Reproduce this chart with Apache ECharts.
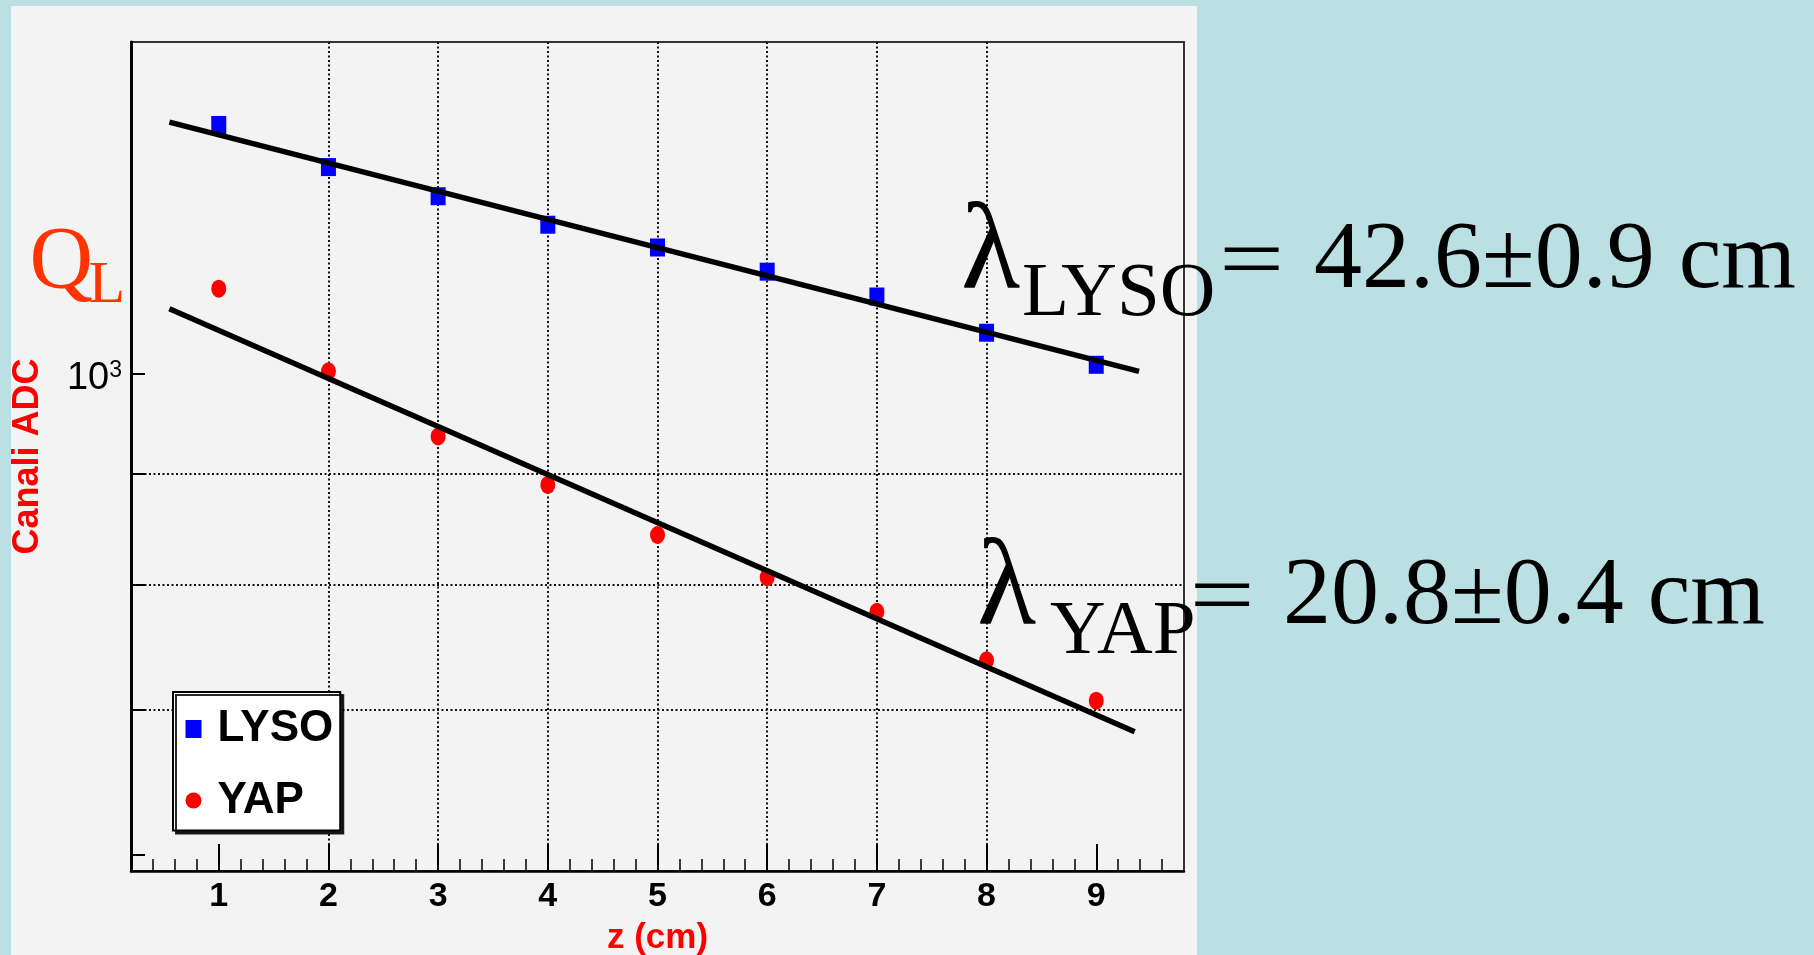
<!DOCTYPE html>
<html><head><meta charset="utf-8">
<script src="https://cdn.jsdelivr.net/npm/echarts@6/dist/echarts.min.js"></script>
<style>html,body{margin:0;padding:0;background:#bae0e3;}#c{width:1814px;height:955px;}</style>
</head><body><div id="c"></div>
<script>
// ---- data ----
const zValues = [1, 2, 3, 4, 5, 6, 7, 8, 9];
const lysoQ = [1303, 1246, 1208, 1172, 1144, 1115, 1086, 1045, 1010];
const yapQ  = [1095, 1003, 936, 889, 843, 806, 777, 738, 707];
const lysoFitZ = [0.55, 9.39];
const lysoFitQ = [1307, 1003];
const yapFitZ  = [0.55, 9.35];
const yapFitQ  = [1072, 684];
const xTickValues = [1, 2, 3, 4, 5, 6, 7, 8, 9];
const yGridValues = [600, 700, 800, 900, 1000];
const yLabelValues = [1000];
const xRange = [0.2, 9.8];
const yRange = [590, 1423];
const seriesNames = ['LYSO', 'YAP'];
const lambdaLabels = [
  { sub: 'LYSO', value: '42.6\u00b10.9 cm' },
  { sub: 'YAP',  value: '20.8\u00b10.4 cm' }
];

const SANS = '"Liberation Sans", Arial, Helvetica, sans-serif';
const SERIF = '"Liberation Serif", "Times New Roman", serif';
const ELLIPSE = 'path://M0,-1A1,1 0 1,1 0,1A1,1 0 1,1 0,-1Z';

const pairs = (xs, ys) => xs.map((x, i) => [x, ys[i]]);

function txt(text, x, y, size, color, family, scaleX) {
  return {
    type: 'text', x: x, y: y, z: 100, silent: true, scaleX: scaleX || 1,
    style: {
      text: text, fill: color, fontSize: size, fontFamily: family,
      align: 'left', verticalAlign: 'middle', textAlign: 'left', textVerticalAlign: 'middle'
    }
  };
}

const gridLineStyle = { color: '#111', width: 2, type: [2, 2.5] };

const chart = echarts.init(document.getElementById('c'), null, { renderer: 'canvas' });
const option = {
  animation: false,
  backgroundColor: '#bae0e3',
  grid: {
    left: 131, top: 42, right: 630, bottom: 84,
    show: true, borderColor: '#333', borderWidth: 2, backgroundColor: 'transparent',
    containLabel: false, outerBoundsMode: 'none'
  },
  legend: {
    data: seriesNames, orient: 'vertical', left: 173, top: 692,
    itemWidth: 16, itemHeight: 18, itemGap: 21.5,
    padding: [12, 7, 5, 12.5],
    backgroundColor: '#ffffff', borderColor: '#000', borderWidth: 2,
    shadowColor: 'rgba(0,0,0,0.85)', shadowBlur: 0, shadowOffsetX: 3, shadowOffsetY: 3,
    selectedMode: false,
    textStyle: {
      fontFamily: SANS, fontWeight: 'bold', fontSize: 44, lineHeight: 44,
      color: '#000', padding: [6, 0, 0, 11]
    }
  },
  xAxis: {
    type: 'value', min: xRange[0], max: xRange[1],
    splitNumber: 10, minInterval: 1, maxInterval: 1,
    axisLine: { show: true, onZero: false, lineStyle: { color: '#000', width: 2.5 } },
    axisTick: { show: true, inside: true, length: 27, customValues: xTickValues,
      lineStyle: { color: '#000', width: 2 } },
    minorTick: { show: true, splitNumber: 5, length: 12, lineStyle: { color: '#000', width: 1.5 } },
    axisLabel: {
      customValues: xTickValues, margin: 9,
      formatter: v => String(Math.round(v)),
      color: '#000', fontFamily: SANS, fontWeight: 'bold', fontSize: 34
    },
    splitLine: { show: true, showMinLine: false, showMaxLine: false, lineStyle: gridLineStyle },
    name: 'z (cm)', nameLocation: 'middle', nameGap: 50, nameMoveOverlap: false,
    nameTextStyle: { color: '#ff0000', fontFamily: SANS, fontWeight: 'bold', fontSize: 35 }
  },
  yAxis: {
    type: 'log', logBase: 10, min: yRange[0], max: yRange[1],
    axisLine: { show: true, lineStyle: { color: '#000', width: 3 } },
    axisTick: { show: true, inside: true, length: 14, customValues: yGridValues,
      lineStyle: { color: '#000', width: 2 } },
    minorTick: { show: false },
    axisLabel: {
      customValues: yLabelValues, margin: 9, padding: [8, 0, 0, 0],
      fontFamily: SANS, fontSize: 38, color: '#000',
      formatter: v => '{a|10}{b|' + Math.round(Math.log10(v)) + '}',
      rich: {
        a: { fontFamily: SANS, fontSize: 38, lineHeight: 38, color: '#000' },
        b: { fontFamily: SANS, fontSize: 23, lineHeight: 10, verticalAlign: 'top', color: '#000' }
      }
    },
    splitLine: { show: true, showMinLine: false, showMaxLine: false, lineStyle: gridLineStyle },
    name: 'Canali ADC', nameLocation: 'middle', nameGap: 85, nameRotate: 90, nameMoveOverlap: false,
    nameTextStyle: { color: '#ff0000', fontFamily: SANS, fontWeight: 'bold', fontSize: 36 }
  },
  series: [
    { type: 'scatter', name: seriesNames[0], data: pairs(zValues, lysoQ), symbol: 'rect',
      symbolSize: [15, 18], itemStyle: { color: '#0000ff', opacity: 1 }, z: 3, silent: true },
    { type: 'scatter', name: seriesNames[1], data: pairs(zValues, yapQ), symbol: ELLIPSE,
      symbolSize: [15, 18], itemStyle: { color: '#ff0000', opacity: 1 }, z: 3, silent: true },
    { type: 'line', name: 'fitLYSO', data: pairs(lysoFitZ, lysoFitQ), symbol: 'none', showSymbol: false,
      lineStyle: { color: '#000', width: 5.5 }, z: 4, silent: true },
    { type: 'line', name: 'fitYAP', data: pairs(yapFitZ, yapFitQ), symbol: 'none', showSymbol: false,
      lineStyle: { color: '#000', width: 5.5 }, z: 4, silent: true }
  ],
  graphic: {
    elements: [
      { type: 'rect', z: -100, silent: true, shape: { x: 11, y: 6, width: 1186, height: 960 },
        style: { fill: '#f3f3f3' } },
      txt('Q', 29.5, 263.5, 88, '#ff3300', SERIF),
      txt('L', 88.5, 286.6, 60, '#ff3300', SERIF),
      txt('\u03bb', 961, 254.6, 122, '#000', SERIF),
      txt(lambdaLabels[0].sub, 1022, 294.7, 77, '#000', SERIF),
      txt('=', 1219, 264.2, 89, '#000', SERIF, 1.3),
      txt(lambdaLabels[0].value, 1314, 262.2, 96, '#000', SERIF),
      txt('\u03bb', 977, 590.6, 122, '#000', SERIF),
      txt(lambdaLabels[1].sub, 1050, 632.7, 77, '#000', SERIF),
      txt('=', 1189.5, 600.2, 89, '#000', SERIF, 1.3),
      txt(lambdaLabels[1].value, 1283, 598.2, 96, '#000', SERIF)
    ]
  }
};
chart.setOption(option);
</script>
</body></html>
